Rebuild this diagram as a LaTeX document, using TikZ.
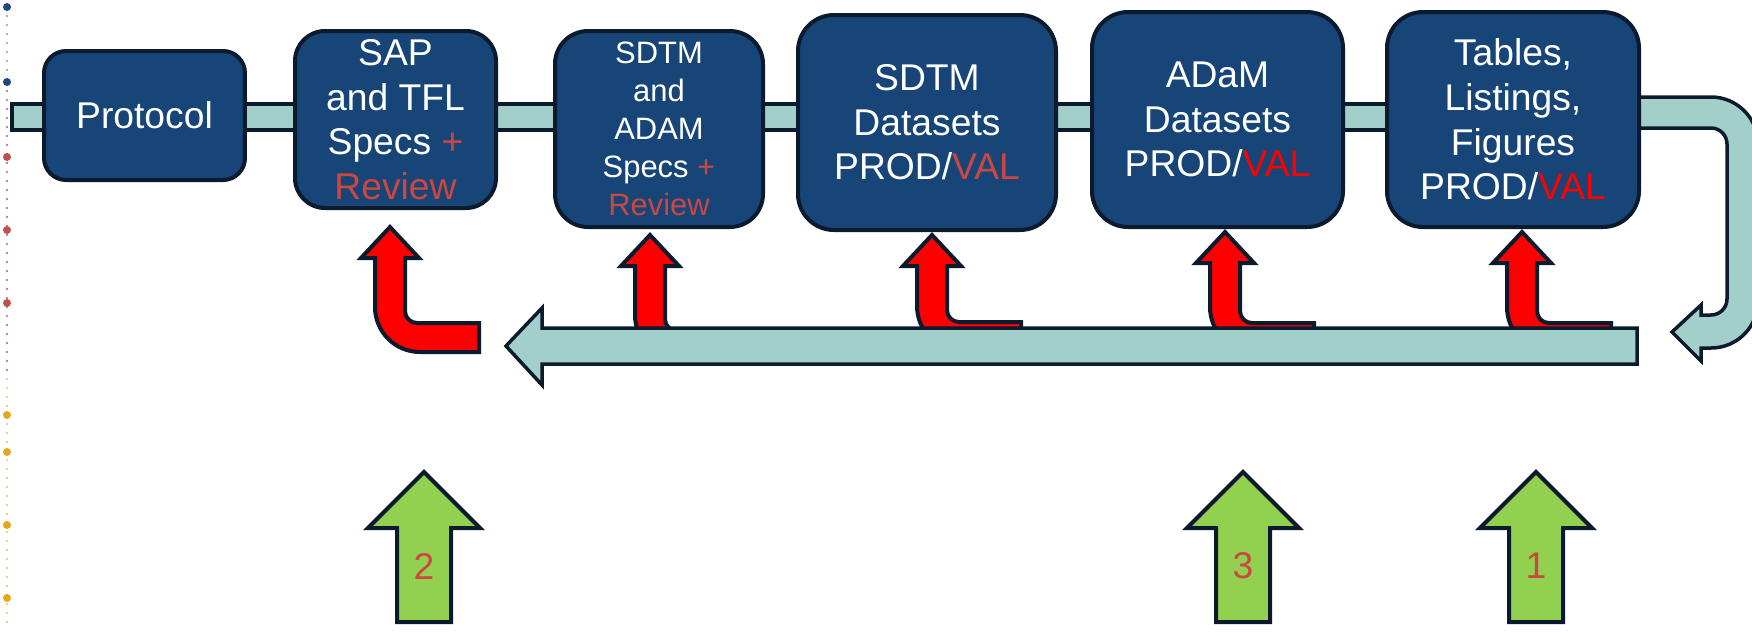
\documentclass[tikz,border=0pt]{standalone}
\usepackage{fontspec}
\setmainfont{Liberation Sans}

\definecolor{boxblue}{RGB}{23,69,120}
\definecolor{edge}{RGB}{12,26,46}
\definecolor{bandteal}{RGB}{162,207,201}
\definecolor{arrowgreen}{RGB}{146,208,80}
\definecolor{softred}{RGB}{204,70,66}
\definecolor{dotblue}{RGB}{31,73,125}
\definecolor{dotred}{RGB}{192,80,77}
\definecolor{dotgold}{RGB}{229,168,28}

\newcommand{\bigtxt}{\fontsize{10.6}{12.7}\selectfont}
\newcommand{\smalltxt}{\fontsize{8.8}{10.8}\selectfont}

\tikzset{
  stagebox/.style={draw=edge, fill=boxblue, line width=0.4mm, text=white, align=center, inner sep=0pt, font=\bigtxt},
  band/.style={draw=edge, fill=bandteal, line width=0.35mm},
  redarrow/.style={draw=edge, fill=red, line width=0.4mm},
  greenarrow/.style={draw=edge, fill=arrowgreen, line width=0.4mm},
  numlbl/.style={text=softred, font=\bigtxt, inner sep=0pt}
}

\begin{document}
\begin{tikzpicture}[x=0.1mm, y=-0.1mm]
\useasboundingbox (0,0) rectangle (1752,631);

\foreach \y in {16,25,...,78} \fill[dotblue!55] (7,\y) circle (0.12mm);
\foreach \y in {91,100,...,370} \fill[dotred!50!gray] (7,\y) circle (0.12mm);
\foreach \y in {379,388,...,630} \fill[dotgold!70] (7,\y) circle (0.12mm);
\foreach \y/\c in {7/dotblue, 82/dotblue, 157/dotred, 230/dotred, 303/dotred, 415/dotgold, 452/dotgold, 525/dotgold, 598/dotgold}
  \fill[\c] (7,\y) circle (0.4mm);

\coordinate (bandL) at (12,104);
\coordinate (bandR) at (1513,130);
\draw[band] (bandL) rectangle (bandR);

\draw[band] (1630,97) -- (1711,97) arc[start angle=-90, end angle=0, radius=47]
  -- (1758,301) arc[start angle=0, end angle=90, radius=47]
  -- (1701,348) -- (1701,361) -- (1672,332) -- (1701,305) -- (1701,315)
  -- (1711,315) arc[start angle=90, end angle=0, radius=16]
  -- (1727,144) arc[start angle=0, end angle=-90, radius=16]
  -- (1630,128) -- cycle;

\node[stagebox, minimum width=20.1mm, minimum height=12.9mm, rounded corners=2.2mm] (protocol) at (144.5,115.5) {Protocol};
\node[stagebox, minimum width=20.1mm, minimum height=17.7mm, rounded corners=3mm] (sap) at (395.5,119.5)
  {SAP\\and TFL\\Specs \textcolor{softred}{+}\\\textcolor{softred}{Review}};
\node[stagebox, font=\smalltxt, minimum width=20.8mm, minimum height=19.6mm, rounded corners=3.3mm] (specs) at (659,129)
  {SDTM\\and\\ADAM\\Specs \textcolor{softred}{+}\\\textcolor{softred}{Review}};
\node[stagebox, minimum width=25.8mm, minimum height=21.5mm, rounded corners=3.6mm] (sdtm) at (927,122.5)
  {SDTM\\Datasets\\PROD/\textcolor{softred}{VAL}};
\node[stagebox, minimum width=25.1mm, minimum height=21.5mm, rounded corners=3.6mm] (adam) at (1217.5,119.5)
  {ADaM\\Datasets\\PROD/\textcolor{red}{VAL}};
\node[stagebox, minimum width=25.2mm, minimum height=21.5mm, rounded corners=3.6mm] (tlf) at (1513,119.5)
  {Tables,\\Listings,\\Figures\\PROD/\textcolor{red}{VAL}};

\foreach \cx/\ty/\ht in {390/227/323, 650/235/331, 932/235/322, 1225/232/323, 1522/232/323}
  \draw[redarrow] ({\cx+89},{\ht+29}) -- ({\cx+30},{\ht+29}) arc[start angle=90, end angle=180, radius=45]
    -- ({\cx-15},{\ty+31}) -- ({\cx-29},{\ty+31}) -- (\cx,\ty) -- ({\cx+29},{\ty+31}) -- ({\cx+15},{\ty+31})
    -- ({\cx+15},{\ht-12}) arc[start angle=180, end angle=90, radius=12] -- ({\cx+89},\ht) -- cycle;

\draw[band] (1637,328) -- (542,328) -- (542,308) -- (506,346) -- (542,385) -- (542,364) -- (1637,364) -- cycle;

\foreach \cx in {424,1243,1536}
  \draw[greenarrow] ({\cx-27},622) -- ({\cx-27},528) -- ({\cx-56},528) -- (\cx,472)
    -- ({\cx+56},528) -- ({\cx+27},528) -- ({\cx+27},622) -- cycle;
\node[numlbl] (n2) at (424,566) {2};
\node[numlbl] (n3) at (1243,566) {3};
\node[numlbl] (n1) at (1536,566) {1};
\end{tikzpicture}
\end{document}
